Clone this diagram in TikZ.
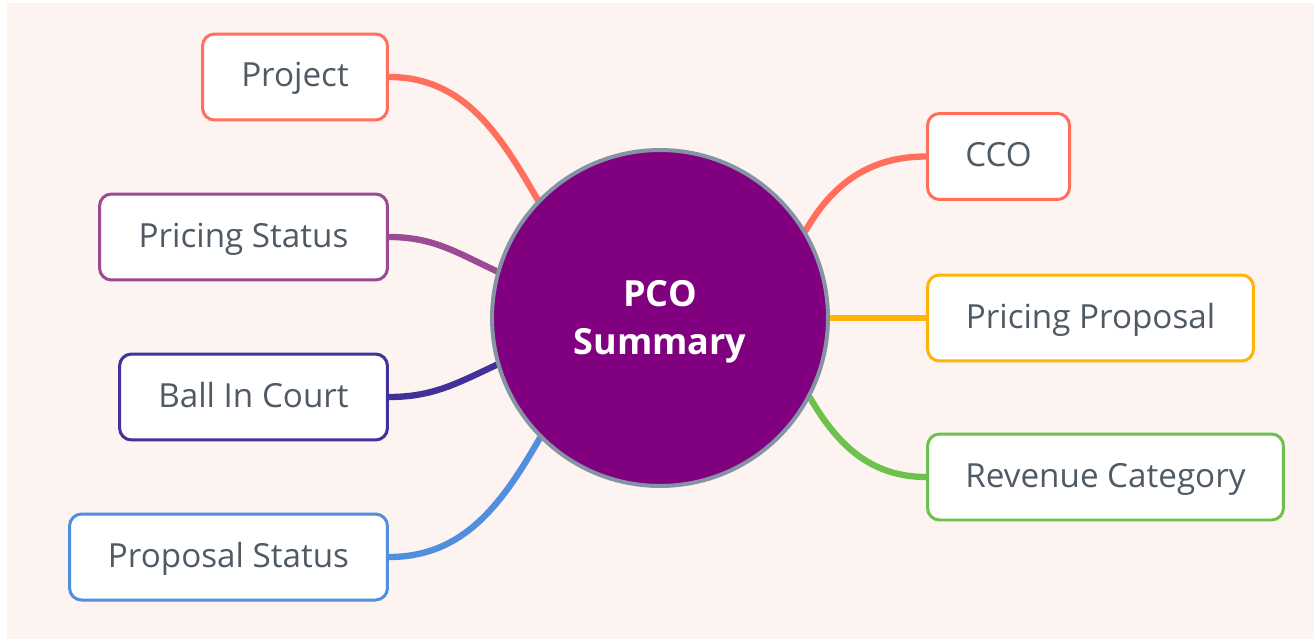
\documentclass[tikz,border=0pt]{standalone}
\usepackage{fontspec}
\setmainfont{Open Sans}
\usepackage{tikz}
\usetikzlibrary{backgrounds}

\definecolor{bgpink}{HTML}{FDF3F1}
\definecolor{textgray}{HTML}{4F5A65}
\definecolor{rimgray}{HTML}{8494A4}
\definecolor{hubpurple}{HTML}{800080}
\definecolor{coral}{HTML}{FF6F5C}
\definecolor{plum}{HTML}{9A4B94}
\definecolor{indigo}{HTML}{43319A}
\definecolor{skyblue}{HTML}{4F8FDE}
\definecolor{amber}{HTML}{FFB406}
\definecolor{leafgreen}{HTML}{6CC24A}

\tikzset{
    leaf/.style={draw=#1, fill=white, line width=0.06cm, rounded corners=0.24cm,
        minimum height=1.72cm, text=textgray, text height=0.47cm, text depth=0.07cm,
        font=\fontsize{18.9}{22}\selectfont},
    branch/.style={draw=#1, line width=3.6pt, line cap=round},
}

\begin{document}
\begin{tikzpicture}[x=0.02cm, y=-0.02cm]
        \useasboundingbox (0,0) rectangle (1314,639);
        \node (hub) at (660,318) [circle, fill=hubpurple, draw=rimgray, line width=0.08cm,
            minimum size=6.72cm, text=white, align=center,
            font=\bfseries\fontsize{20.5}{27}\selectfont] {\strut PCO\\Summary};
        \node (project) at (295,77) [leaf=coral, minimum width=3.7cm] {Project};
        \node (pstatus) at (243.5,237) [leaf=plum, minimum width=5.76cm] {Pricing Status};
        \node (ball) at (253.5,397) [leaf=indigo, minimum width=5.36cm] {Ball In Court};
        \node (propstatus) at (228.5,557) [leaf=skyblue, minimum width=6.36cm] {Proposal Status};
        \node (cco) at (998.5,156.5) [leaf=coral, minimum width=2.84cm] {CCO};
        \node (proposal) at (1090.5,318) [leaf=amber, minimum width=6.52cm] {Pricing Proposal};
        \node (revenue) at (1105.5,477) [leaf=leafgreen, minimum width=7.12cm] {Revenue Category};
        \begin{scope}[on background layer]
            \fill [bgpink] (7,3) rectangle (1314,639);
            \draw [branch=coral] (project.east) to[out=0, in=120] (hub.136);
            \draw [branch=plum] (pstatus.east) to[out=0, in=155] (hub.164);
            \draw [branch=indigo] (ball.east) to[out=0, in=205] (hub.196);
            \draw [branch=skyblue] (propstatus.east) to[out=0, in=240] (hub.225);
            \draw [branch=coral] (cco.west) to[out=180, in=60] (hub.31);
            \draw [branch=amber] (proposal.west) -- (hub.east);
            \draw [branch=leafgreen] (revenue.west) to[out=180, in=-60] (hub.-28);
        \end{scope}
    \end{tikzpicture}
\end{document}
